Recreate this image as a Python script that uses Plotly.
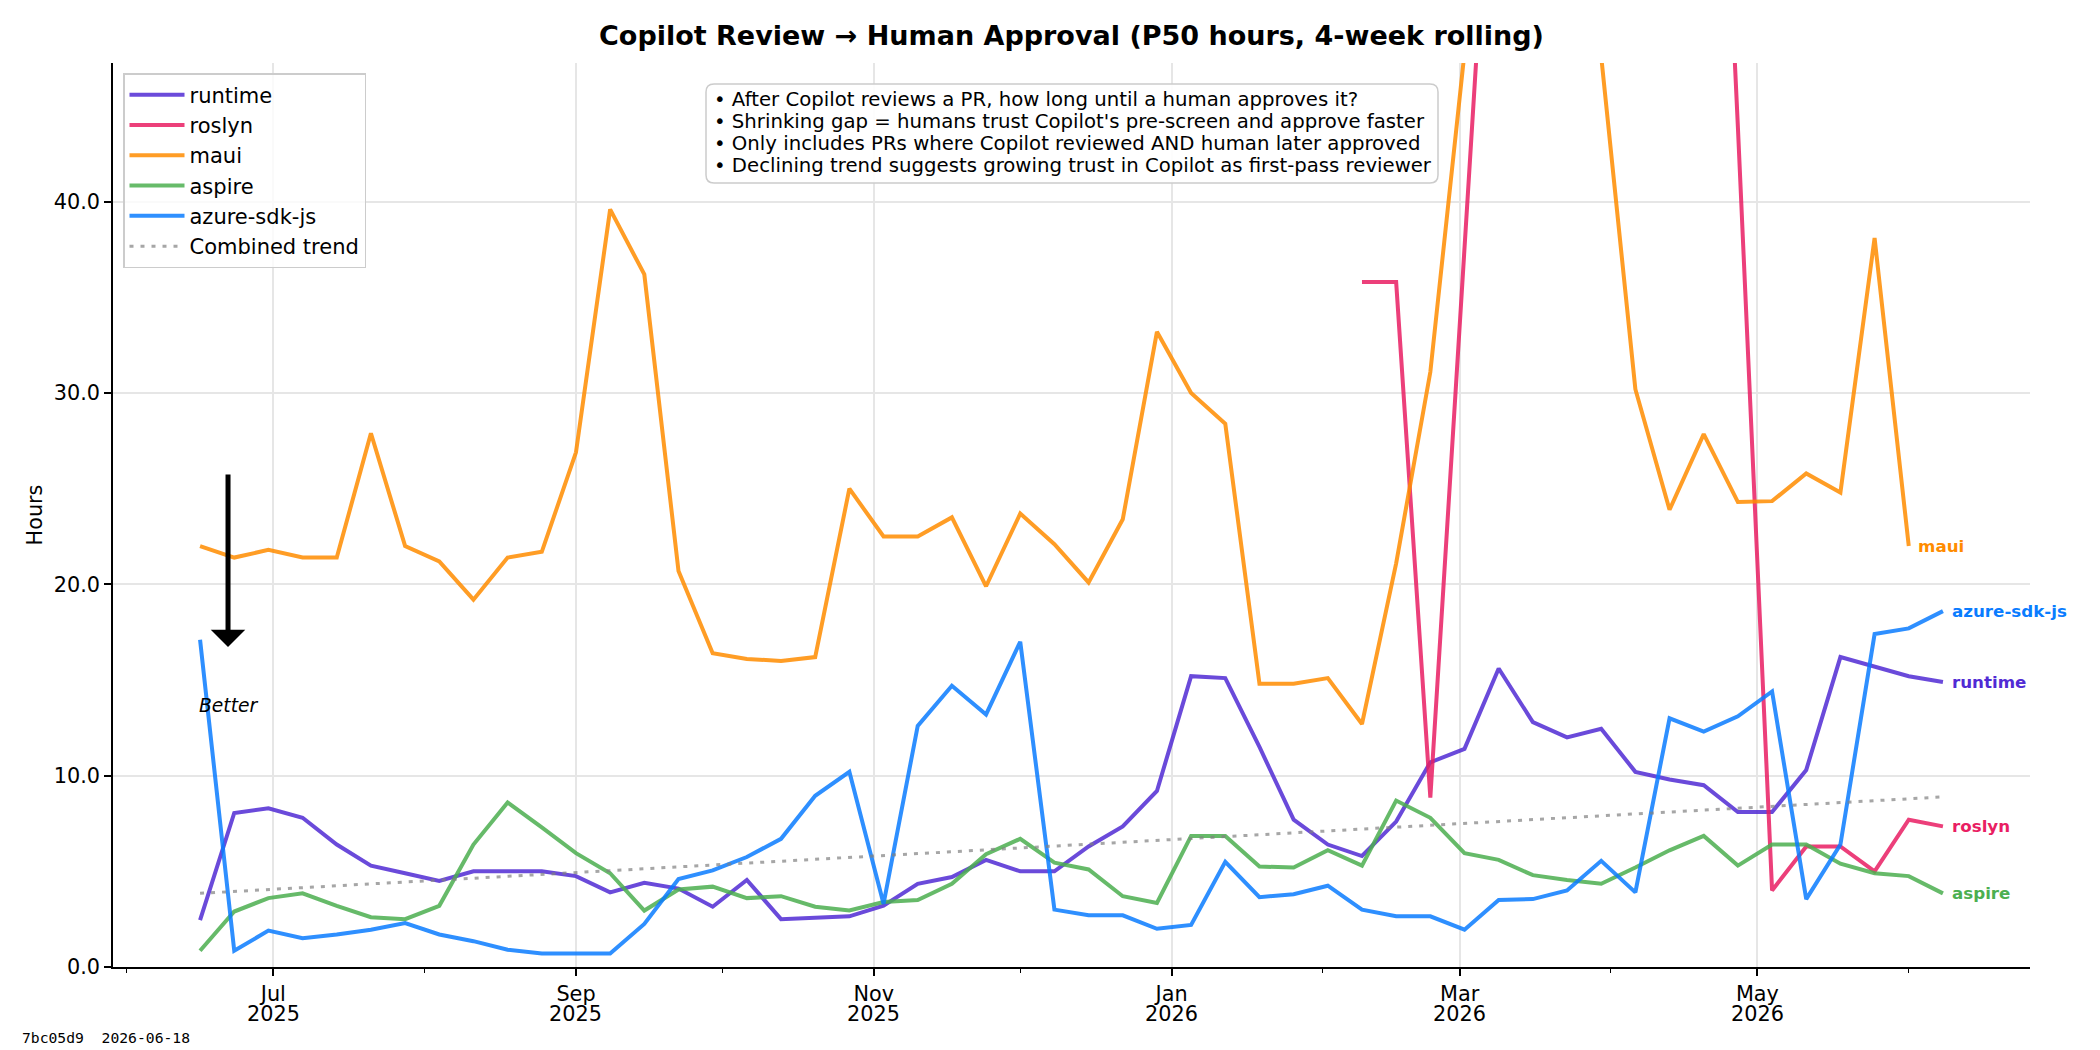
import pandas as pd
import plotly.graph_objects as go

weeks = pd.date_range("2025-06-16", periods=52, freq="7D")

runtime = [2.45, 8.05, 8.3, 7.8, 6.4, 5.3, 4.9, 4.5, 5.0, 5.0, 5.0, 4.75, 3.9, 4.4, 4.1, 3.15,
           4.55, 2.5, 2.6, 2.65, 3.2, 4.35, 4.7, 5.6, 5.0, 5.0, 6.3, 7.35, 9.2, 15.2, 15.1, 11.5,
           7.7, 6.4, 5.8, 7.6, 10.7, 11.4, 15.6, 12.8, 12.0, 12.45, 10.2, 9.8, 9.5, 8.1,
           8.1, 10.3, 16.2, 15.7, 15.2, 14.9]
roslyn = [None] * 34 + [35.8, 35.8, 8.85, 37.5, 66.0, 95.0, 110.0, 120.0, 105.0, 90.0, 82.0, 43.9,
                        4.0, 6.3, 6.3, 5.0, 7.7, 7.35]
maui = [22.0, 21.4, 21.8, 21.4, 21.4, 27.9, 22.0, 21.2, 19.2, 21.4, 21.7, 26.9, 39.6, 36.2, 20.7, 16.4,
        16.1, 16.0, 16.2, 25.0, 22.5, 22.5, 23.5, 19.9, 23.7, 22.1, 20.1, 23.4, 33.2, 30.0, 28.4, 14.8,
        14.8, 15.1, 12.7, 21.1, 31.1, 47.8, 62.0, 75.0, 66.0, 47.6, 30.2, 23.9, 27.85, 24.3,
        24.35, 25.8, 24.8, 38.1, 22.0, None]
aspire = [0.85, 2.9, 3.6, 3.85, 3.2, 2.6, 2.5, 3.2, 6.4, 8.6, 7.3, 5.95, 4.9, 2.95, 4.05, 4.2,
          3.6, 3.7, 3.15, 2.95, 3.4, 3.5, 4.35, 5.9, 6.7, 5.45, 5.1, 3.7, 3.35, 6.85, 6.85, 5.25,
          5.2, 6.1, 5.3, 8.7, 7.8, 5.95, 5.6, 4.8, 4.55, 4.35, 5.2, 6.1, 6.85, 5.3,
          6.4, 6.4, 5.4, 4.9, 4.75, 3.85]
azure_sdk_js = [17.1, 0.85, 1.9, 1.5, 1.7, 1.95, 2.3, 1.7, 1.35, 0.9, 0.7, 0.7, 0.7, 2.25, 4.6, 5.05,
                5.75, 6.7, 8.95, 10.2, 3.3, 12.6, 14.7, 13.2, 17.0, 3.0, 2.7, 2.7, 2.0, 2.2, 5.5, 3.65,
                3.8, 4.25, 3.0, 2.65, 2.65, 1.95, 3.5, 3.55, 4.0, 5.55, 3.9, 13.0, 12.3, 13.1,
                14.4, 3.55, 6.4, 17.4, 17.7, 18.6]
trend_ends = [3.85, 8.89]

series = [
    ("runtime", runtime, "#512BD4"),
    ("roslyn", roslyn, "#E91E63"),
    ("maui", maui, "#FF8C00"),
    ("aspire", aspire, "#4CAF50"),
    ("azure-sdk-js", azure_sdk_js, "#0A7CFF"),
]

major_ticks = ["2025-07-01", "2025-09-01", "2025-11-01", "2026-01-01", "2026-03-01", "2026-05-01"]
major_months = ["Jul", "Sep", "Nov", "Jan", "Mar", "May"]
major_years = ["2025", "2025", "2025", "2026", "2026", "2026"]
y_ticks = [0, 10, 20, 30, 40]

notes = [
    "• After Copilot reviews a PR, how long until a human approves it?",
    "• Shrinking gap = humans trust Copilot's pre-screen and approve faster",
    "• Only includes PRs where Copilot reviewed AND human later approved",
    "• Declining trend suggests growing trust in Copilot as first-pass reviewer",
]

FONT = "DejaVu Sans"
# plot area in pixels
L, R, T, B = 113, 2030, 63, 967
PW, PH = R - L, B - T


def px(xpix):
    return (xpix - L) / PW


def py(ypix):
    return (B - ypix) / PH


fig = go.Figure()

for name, vals, col in series:
    fig.add_trace(go.Scatter(x=weeks, y=vals, mode="lines", name=name, legendgroup=name,
                             line=dict(color=col, width=4), opacity=0.85,
                             connectgaps=False))

fig.add_trace(go.Scatter(x=[weeks[0], weeks[-1]], y=trend_ends, mode="lines",
                         name="Combined trend", legendgroup="trend",
                         line=dict(color="rgba(128,128,128,0.7)", width=3, dash="4px,7px")))

annotations = []
for name, vals, col in series:
    idx = max(i for i, v in enumerate(vals) if v is not None)
    annotations.append(dict(x=weeks[idx], y=vals[idx], xref="x", yref="y", text=f"<b>{name}</b>",
                            showarrow=False, xanchor="left", yanchor="middle", xshift=7,
                            font=dict(family=FONT, size=16.7, color=col)))

# info box text lines
for k, line in enumerate(notes):
    annotations.append(dict(x=px(712), y=py(99.5 + 21.9 * k), xref="paper", yref="paper",
                            xanchor="left", yanchor="middle", text=line, showarrow=False,
                            font=dict(family=FONT, size=19.7, color="black")))

# year line of x tick labels
for tv, yr in zip(major_ticks, major_years):
    annotations.append(dict(x=tv, y=py(1014), xref="x", yref="paper", text=yr, showarrow=False,
                            xanchor="center", yanchor="middle",
                            font=dict(family=FONT, size=20.8, color="black")))

annotations.append(dict(x=0.06, y=0.354, xref="paper", yref="paper", ax=0, ay=-174,
                        axref="pixel", ayref="pixel", text="", showarrow=True,
                        arrowhead=1, arrowwidth=5, arrowsize=1.15, arrowcolor="black"))
annotations.append(dict(x=0.06, y=0.289, xref="paper", yref="paper", text="<i>Better</i>",
                        showarrow=False, xanchor="center", yanchor="middle",
                        font=dict(family=FONT, size=18.7, color="black")))
annotations.append(dict(x=px(20), y=py(1037), xref="paper", yref="paper",
                        text="7bc05d9\u00a0 2026-06-18", showarrow=False, xanchor="left",
                        yanchor="middle", font=dict(family="DejaVu Sans Mono", size=14.7, color="black")))

# rounded info box
hw, hh, r = 366, 49.5, 8
box_path = (f"M{-hw + r},{-hh} L{hw - r},{-hh} Q{hw},{-hh} {hw},{-hh + r} "
            f"L{hw},{hh - r} Q{hw},{hh} {hw - r},{hh} L{-hw + r},{hh} Q{-hw},{hh} {-hw},{hh - r} "
            f"L{-hw},{-hh + r} Q{-hw},{-hh} {-hw + r},{-hh} Z")
shapes = [dict(type="path", xref="paper", yref="paper", xsizemode="pixel", ysizemode="pixel",
               xanchor=px(1072), yanchor=py(133.5), path=box_path,
               fillcolor="rgba(255,255,255,0.9)", line=dict(color="#cccccc", width=1.5),
               layer="above")]

fig.update_layout(
    width=2100, height=1050, autosize=False,
    margin=dict(l=L, r=2100 - R, t=T, b=1050 - B),
    paper_bgcolor="white", plot_bgcolor="white",
    font=dict(family=FONT, size=20.8, color="black"),
    title=dict(text="<b>Copilot Review → Human Approval (P50 hours, 4-week rolling)</b>",
               x=0.5, xref="paper", xanchor="center", y=1 - 36 / 1050, yref="container",
               yanchor="middle", font=dict(family=FONT, size=27, color="black")),
    legend=dict(x=px(123), y=py(73), xanchor="left", yanchor="top", bgcolor="rgba(255,255,255,0.8)",
                bordercolor="#cccccc", borderwidth=1.5, font=dict(family=FONT, size=21),
                itemwidth=55, tracegroupgap=0),
    annotations=annotations,
    shapes=shapes,
    showlegend=True,
)

fig.update_xaxes(
    type="date", range=["2025-05-29 04:00", "2026-06-25 20:00"],
    tickvals=major_ticks, ticktext=major_months,
    showgrid=True, gridcolor="#e6e6e6", gridwidth=1.5,
    showline=True, linecolor="black", linewidth=1.6,
    ticks="outside", ticklen=7, tickwidth=1.6, tickcolor="black",
    minor=dict(ticks="outside", dtick="M1", tick0="2025-06-01", ticklen=4, tickwidth=1.2,
               tickcolor="black", showgrid=False),
    tickfont=dict(family=FONT, size=20.8), zeroline=False,
)
fig.update_yaxes(
    range=[0, 47.25], tickvals=y_ticks, tickformat=".1f",
    showgrid=True, gridcolor="#e6e6e6", gridwidth=1.5,
    showline=True, linecolor="black", linewidth=1.6,
    ticks="outside", ticklen=7, tickwidth=1.6, tickcolor="black",
    tickfont=dict(family=FONT, size=20.8), zeroline=False,
    title=dict(text="Hours", font=dict(family=FONT, size=20.8), standoff=5),
)

fig.write_html("out.html")
